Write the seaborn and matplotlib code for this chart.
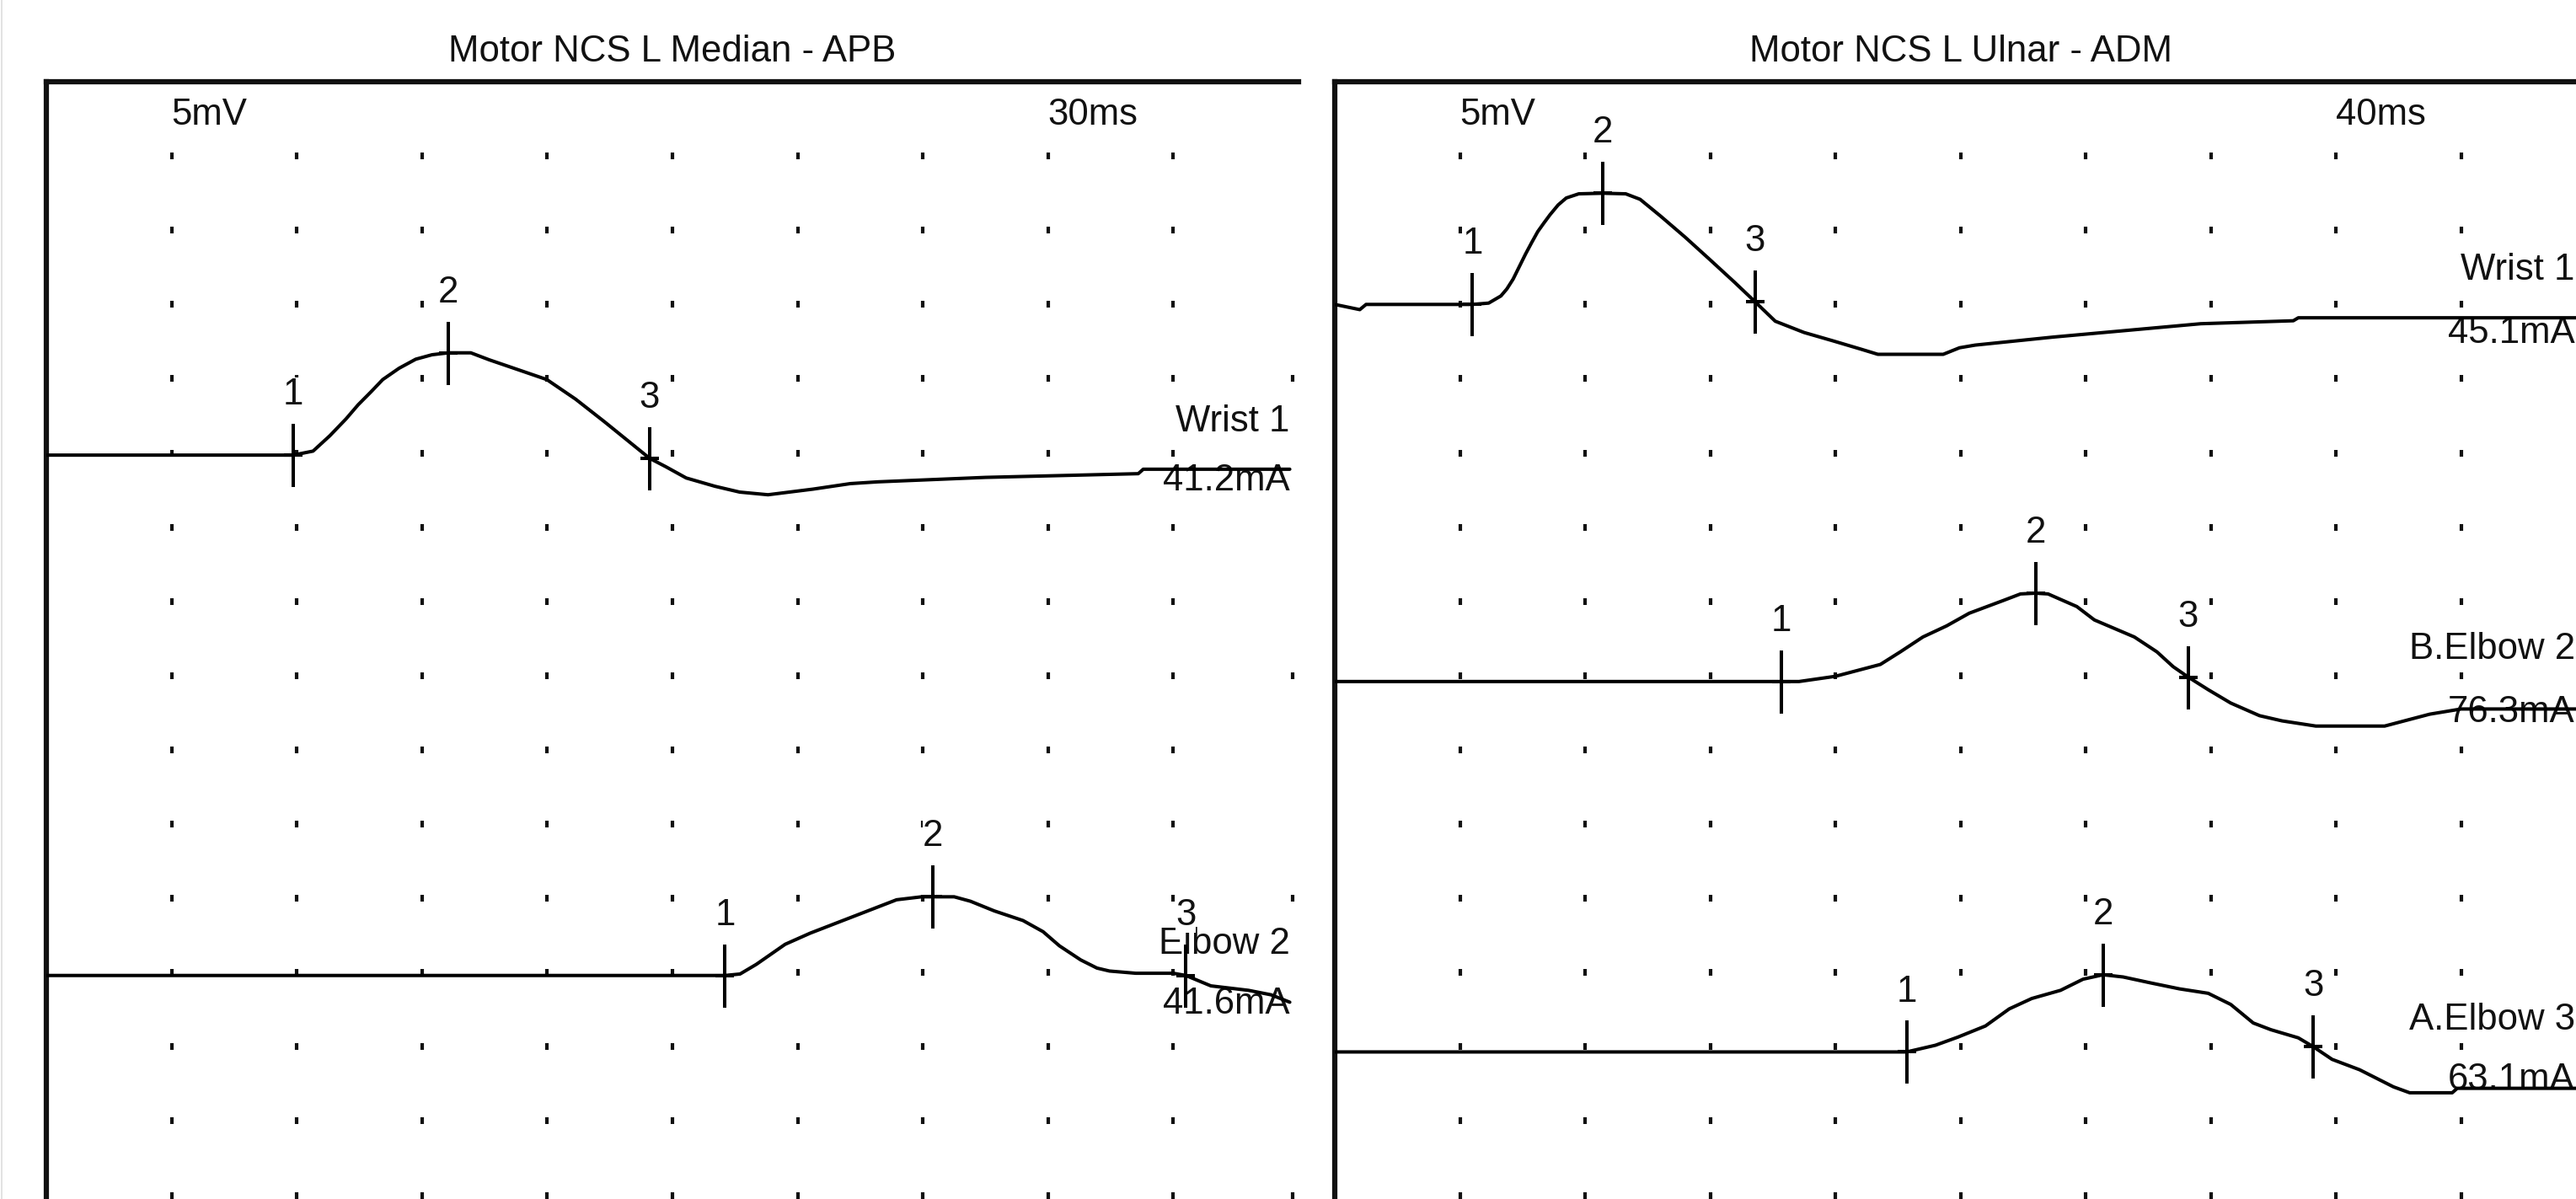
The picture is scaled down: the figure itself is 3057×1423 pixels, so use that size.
import numpy as np
import seaborn as sns
import matplotlib.pyplot as plt
from matplotlib.path import Path
from matplotlib.lines import Line2D

#========================================================================================================
# Waveform data (time in ms, amplitude in mV relative to each trace's own baseline)
#========================================================================================================

#Motor NCS L Median - APB (3 ms/div, 5 mV/div)
median_wrist_t = [0, 5.91, 6.39, 6.79, 7.18, 7.47, 7.77, 8.06, 8.45, 8.85, 9.24, 9.63, 10.17, 10.61, 11.40,
                  11.99, 12.68, 13.37, 13.95, 14.45, 14.84, 15.33, 16.02, 16.61, 17.29, 18.37, 19.26, 19.92,
                  22.5, 26.16, 26.28, 29.79]
median_wrist_mv = [0, 0, 0.27, 1.3, 2.44, 3.39, 4.24, 5.09, 5.85, 6.46, 6.76, 6.89, 6.89, 6.42, 5.66,
                   5.09, 3.77, 2.25, 0.93, -0.21, -0.78, -1.54, -2.1, -2.49, -2.67, -2.29, -1.92, -1.8,
                   -1.5, -1.25, -0.95, -0.95]
median_wrist_marks_t = [5.91, 9.63, 14.45]
median_wrist_marks_mv = [0, 6.89, -0.21]

median_elbow_t = [0, 16.26, 16.62, 17.01, 17.7, 18.3, 18.99, 19.68, 20.37, 20.97, 21.24, 21.75, 22.14, 22.71,
                  23.4, 23.88, 24.27, 24.78, 25.17, 25.47, 26.1, 27.0, 27.3, 27.9, 28.8, 29.34, 29.79]
median_elbow_mv = [0, 0, 0.1, 0.75, 2.1, 2.85, 3.6, 4.35, 5.1, 5.3, 5.3, 5.3, 5.0, 4.35,
                   3.7, 2.95, 2.0, 1.05, 0.5, 0.3, 0.15, 0.15, 0.0, -0.7, -1.0, -1.3, -1.8]
median_elbow_marks_t = [16.26, 21.24, 27.3]
median_elbow_marks_mv = [0, 5.3, 0.0]

#Motor NCS L Ulnar - ADM (4 ms/div, 5 mV/div)
ulnar_wrist_t = [0, 0.8, 1.0, 4.4, 4.92, 5.31, 5.50, 5.70, 5.90, 6.10, 6.29, 6.49, 6.68, 6.88, 7.14, 7.40,
                 7.80, 8.56, 9.30, 9.76, 10.42, 11.20, 11.99, 12.77, 13.43, 14.08, 15.0, 15.92, 16.83,
                 17.36, 19.45, 19.97, 20.47, 22.96, 27.68, 30.64, 30.8, 39.68]
ulnar_wrist_mv = [0, -0.35, 0, 0, 0.09, 0.57, 1.04, 1.70, 2.55, 3.40, 4.15, 4.91, 5.47, 6.04, 6.70, 7.17,
                  7.45, 7.49, 7.45, 7.08, 5.94, 4.53, 3.02, 1.51, 0.19, -1.13, -1.89, -2.45, -3.02,
                  -3.36, -3.36, -2.92, -2.74, -2.2, -1.3, -1.1, -0.9, -0.9]
ulnar_wrist_marks_t = [4.4, 8.56, 13.43]
ulnar_wrist_marks_mv = [0, 7.49, 0.19]

ulnar_belbow_t = [0, 14.28, 14.84, 16.0, 17.44, 18.08, 18.8, 19.56, 20.28, 21.36, 21.92, 22.4, 22.8, 23.72,
                  24.28, 25.56, 26.28, 26.8, 27.28, 27.92, 28.64, 29.56, 30.28, 31.36, 33.56, 34.28, 35.0,
                  36.0, 39.68]
ulnar_belbow_mv = [0, 0, 0, 0.35, 1.15, 2.0, 3.0, 3.75, 4.6, 5.45, 5.9, 5.95, 5.9, 5.05,
                   4.15, 3.0, 2.0, 1.0, 0.3, -0.55, -1.45, -2.3, -2.65, -3.0, -3.0, -2.6, -2.2,
                   -1.85, -1.85]
ulnar_belbow_marks_t = [14.28, 22.4, 27.28]
ulnar_belbow_marks_mv = [0, 5.95, 0.3]

ulnar_aelbow_t = [0, 18.28, 19.2, 19.92, 20.8, 21.56, 22.28, 23.2, 23.92, 24.56, 25.2, 26.08, 27.0, 27.92,
                  28.64, 29.36, 29.92, 30.8, 31.28, 31.88, 32.76, 33.84, 34.36, 35.72, 35.88, 39.68]
ulnar_aelbow_mv = [0, 0, 0.45, 1.0, 1.75, 2.9, 3.6, 4.15, 4.9, 5.2, 5.05, 4.65, 4.25, 3.95,
                   3.2, 1.95, 1.5, 0.95, 0.35, -0.5, -1.2, -2.35, -2.75, -2.75, -2.45, -2.45]
ulnar_aelbow_marks_t = [18.28, 24.56, 31.28]
ulnar_aelbow_marks_mv = [0, 5.2, 0.35]

#Trace names and stimulus currents
median_names = ["Wrist 1", "Elbow 2"]
median_currents = ["41.2mA", "41.6mA"]
ulnar_names = ["Wrist 1", "B.Elbow 2", "A.Elbow 3"]
ulnar_currents = ["45.1mA", "76.3mA", "63.1mA"]

#========================================================================================================
# Layout settings
#========================================================================================================

W, H, DPI = 3057, 1423, 100
top_px = 97          #top border of both panels
div_px = 88.1        #vertical size of one division
n_div_y = 16
mv_per_div = 5
font_size = 31.5
ink = '#111111'

panels = [
    {'title': "Motor NCS L Median - APB", 'left_px': 55, 'width_px': 1486, 'ms_per_div': 3, 'sweep': "30ms",
     'traces': [(median_wrist_t, median_wrist_mv, median_wrist_marks_t, median_wrist_marks_mv),
                (median_elbow_t, median_elbow_mv, median_elbow_marks_t, median_elbow_marks_mv)],
     'names': median_names, 'currents': median_currents,
     'baseline_div': [5.03, 12.04], 'name_div': [4.71, 11.75], 'current_div': [5.51, 12.55],
     'label_x_div': 9.93, 'extra_dot_rows': [4, 8, 11, 15]},
    {'title': "Motor NCS L Ulnar - ADM", 'left_px': 1584, 'width_px': 1485, 'ms_per_div': 4, 'sweep': "40ms",
     'traces': [(ulnar_wrist_t, ulnar_wrist_mv, ulnar_wrist_marks_t, ulnar_wrist_marks_mv),
                (ulnar_belbow_t, ulnar_belbow_mv, ulnar_belbow_marks_t, ulnar_belbow_marks_mv),
                (ulnar_aelbow_t, ulnar_aelbow_mv, ulnar_aelbow_marks_t, ulnar_aelbow_marks_mv)],
     'names': ulnar_names, 'currents': ulnar_currents,
     'baseline_div': [3.0, 8.08, 13.07], 'name_div': [2.67, 7.78, 12.77], 'current_div': [3.52, 8.63, 13.58],
     'label_x_div': 9.91, 'extra_dot_rows': []},
]

#Cursor marker: tall vertical bar with a short horizontal bar
cursor = Path([(0, -1), (0, 1), (-0.3, 0), (0.3, 0)],
              [Path.MOVETO, Path.LINETO, Path.MOVETO, Path.LINETO])

#========================================================================================================
# Plot
#========================================================================================================

sns.set_style("white")
plt.rcParams['font.family'] = ['Liberation Sans', 'DejaVu Sans']

fig = plt.figure(figsize=(W / DPI, H / DPI), dpi=DPI)
fig.patch.set_facecolor('white')

ax_h = n_div_y * div_px / H
ax_top = 1 - top_px / H

for p in panels:
    ax = fig.add_axes([p['left_px'] / W, ax_top - ax_h, p['width_px'] / W, ax_h])
    ax.set_facecolor('white')
    ms = p['ms_per_div']
    ax.set_xlim(0, 10 * ms)
    ax.set_ylim(-n_div_y * mv_per_div, 0)

    #Dotted division grid
    cols = np.arange(1, 10)
    rows = np.arange(1, 16)
    gx, gy = np.meshgrid(cols * ms, -rows * mv_per_div)
    ax.plot(gx.ravel(), gy.ravel(), ls='none', marker='|', ms=6, mew=3.0, color=ink, zorder=1)
    if p['extra_dot_rows']:
        er = np.array(p['extra_dot_rows'])
        ax.plot(np.full(len(er), 10 * ms - 0.05 * ms), -er * mv_per_div, ls='none', marker='|',
                ms=6, mew=3.0, color=ink, zorder=1, clip_on=False)

    #Scale labels
    ax.text(1 * ms, -0.579 * mv_per_div, "5mV", ha='left', va='baseline', fontsize=font_size, color=ink)
    ax.text(8 * ms, -0.579 * mv_per_div, p['sweep'], ha='left', va='baseline', fontsize=font_size, color=ink)

    #Traces, cursors and labels
    for i, (t, mv, mt, mmv) in enumerate(p['traces']):
        off = -p['baseline_div'][i] * mv_per_div
        sns.lineplot(x=np.array(t), y=np.array(mv) + off, ax=ax, sort=False, estimator=None,
                     color='black', linewidth=2.9, zorder=4)
        ax.plot(mt, np.array(mmv) + off, ls='none', marker=cursor, ms=54, mew=2.9,
                color='black', zorder=5)
        for k, (x, y) in enumerate(zip(mt, mmv)):
            ax.text(x, y + off + 0.68 * mv_per_div, str(k + 1), ha='center', va='baseline',
                    fontsize=font_size, color=ink, zorder=3,
                    bbox=dict(facecolor='white', edgecolor='none', pad=0))
        lx = p['label_x_div'] * ms
        ax.text(lx, -p['name_div'][i] * mv_per_div, p['names'][i], ha='right', va='baseline',
                fontsize=font_size, color=ink, zorder=2, clip_on=False)
        ax.text(lx, -p['current_div'][i] * mv_per_div, p['currents'][i], ha='right', va='baseline',
                fontsize=font_size, color=ink, zorder=2, clip_on=False)

    #Frame: only top and left borders are visible
    for side in ['right', 'bottom']:
        ax.spines[side].set_visible(False)
    for side in ['top', 'left']:
        ax.spines[side].set_visible(True)
        ax.spines[side].set_linewidth(4.5)
        ax.spines[side].set_color(ink)
    ax.set_xticks([])
    ax.set_yticks([])
    ax.set_xlabel('')
    ax.set_ylabel('')
    ax.set_title(p['title'], fontsize=font_size, color=ink, pad=17.3)

#Faint window edge at the far left
fig.add_artist(Line2D([0.0006, 0.0006], [0, 1], transform=fig.transFigure, color='#dddddd', lw=1.2))

plt.savefig('out.png', dpi=DPI, facecolor='white')
plt.close()
